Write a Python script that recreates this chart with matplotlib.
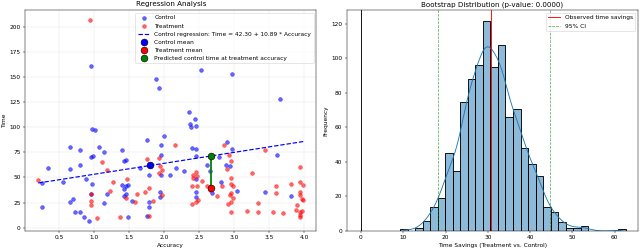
import matplotlib
matplotlib.use("Agg")
import matplotlib.pyplot as plt
import seaborn as sns
import numpy as np

# Control group (accuracy, time)
control_acc = [0.95, 1.89, 1.92, 2.53, 2.97, 3.66, 2.35, 2.44, 2.37, 2.39, 2.46,
               0.97, 1.01, 0.65, 0.80, 1.07, 1.14, 0.34, 0.66, 0.80, 0.95, 0.98,
               0.88, 0.56, 0.26, 0.97, 0.26, 0.65, 0.69, 0.73, 0.80, 0.85, 0.92,
               1.14, 1.18, 0.95, 1.40, 1.45, 1.43, 1.40, 1.45, 1.49, 1.43, 1.45,
               1.42, 1.49, 1.54, 1.65, 1.76, 1.78, 1.76, 1.78, 1.78, 1.95, 2.00,
               1.95, 1.95, 1.94, 1.94, 2.08, 2.17, 2.29, 2.40, 2.45, 2.45, 2.45,
               2.45, 2.45, 2.61, 2.65, 2.68, 2.79, 2.90, 2.89, 2.94, 2.97, 3.04,
               3.45, 3.62, 3.81, 2.81]
control_time = [161, 148, 139, 156.7, 153, 127.7, 115, 108, 103, 100, 101.7,
                98.7, 97.7, 80.7, 77.7, 80.7, 75, 59, 58.7, 62, 70, 71.7,
                48.7, 45.3, 44.7, 43.7, 20.7, 25.7, 29, 15.3, 15.7, 11, 6.7,
                25, 33.7, 33.7, 77, 67, 66, 42, 41, 42, 32, 33.3,
                39, 10.7, 27, 59.3, 87.7, 52.7, 12, 20.7, 25.3, 82.7, 91,
                72.7, 52, 35.3, 30.3, 52, 59.3, 56, 79.3, 78.7, 71, 48.7,
                36, 30.3, 62, 56, 34.3, 70, 85.3, 62.7, 61, 78.7, 37,
                36, 72, 32, 45]

# Treatment group
treat_acc = [0.94, 0.20, 0.95, 0.95, 0.95, 1.04, 1.11, 1.18, 1.23, 1.27, 1.37,
             1.47, 1.46, 1.59, 1.61, 1.72, 1.78, 1.79, 1.76, 1.84, 1.93, 1.94,
             1.93, 1.97, 1.97, 2.15, 2.41, 2.42, 2.45, 2.47, 2.40, 2.47, 2.40,
             2.46, 2.49, 2.54, 2.62, 2.65, 2.75, 2.83, 2.86, 2.90, 2.92, 2.93,
             2.96, 2.95, 2.96, 2.95, 2.98, 2.96, 2.94, 2.98, 2.95, 3.18, 3.26,
             3.34, 3.34, 3.44, 3.60, 3.60, 3.56, 3.70, 3.82, 3.90, 3.89, 3.94,
             3.94, 3.94, 3.99, 3.95, 3.97, 3.99, 3.94, 3.95, 3.94, 3.97]
treat_time = [206.7, 47.7, 33.7, 26.7, 22.7, 9.3, 65, 57, 36.7, 45.3, 11,
              48.3, 29.3, 25.3, 33.7, 36, 40, 12, 68.7, 26.7, 69.3, 61.7,
              54.3, 57.7, 32.7, 82.7, 49.3, 52.7, 55, 51, 41.3, 41.7, 23.7,
              26, 27.3, 46.7, 41, 37.7, 32, 41, 82.7, 58.3, 23.7, 72.7,
              66.7, 25.3, 49.3, 43.3, 41.7, 35, 32.7, 30, 15.3, 17, 54.3,
              25, 15.3, 77.3, 41, 34.3, 15.3, 14.3, 43.7, 22.7, 17.3, 60,
              36, 45.3, 42.3, 32.7, 28.7, 27.7, 15.3, 12.7, 10.3, 16.7]

# Summary values shown on the chart
intercept = 42.30
slope = 10.89
control_mean = (1.80, 62.0)
treat_mean = (2.67, 40.0)

# Bootstrap histogram counts (30 bins)
bin_start = 9.3
bin_width = 1.777
boot_counts = [1, 0, 2, 6, 14, 19, 45, 35, 75, 88, 96, 122, 95, 108, 66,
               71, 48, 39, 32, 14, 11, 5, 2, 2, 3, 0, 0, 0, 0, 1]
observed_savings = 30.85
ci_low, ci_high = 18.3, 44.8
p_value = 0.0

fig, (ax1, ax2) = plt.subplots(1, 2, figsize=(15, 5.8125), dpi=640 / 15)

# Left: regression analysis
ax1.scatter(control_acc, control_time, color="blue", alpha=0.6, s=40, label="Control")
ax1.scatter(treat_acc, treat_time, color="red", alpha=0.6, s=40, label="Treatment")
xs = np.linspace(min(control_acc + treat_acc), max(control_acc + treat_acc), 100)
ax1.plot(xs, intercept + slope * xs, "b--", lw=2,
         label=f"Control regression: Time = {intercept:.2f} + {slope:.2f} * Accuracy")
ax1.scatter(*control_mean, color="blue", s=130, edgecolor="black", label="Control mean", zorder=5)
ax1.scatter(*treat_mean, color="red", s=130, edgecolor="black", label="Treatment mean", zorder=5)
pred = intercept + slope * treat_mean[0]
ax1.scatter(treat_mean[0], pred, color="green", s=130, edgecolor="black",
            label="Predicted control time at treatment accuracy", zorder=5)
ax1.plot([treat_mean[0], treat_mean[0]], [treat_mean[1], pred], "g-", lw=3)
ax1.set_title("Regression Analysis")
ax1.set_xlabel("Accuracy")
ax1.set_ylabel("Time")
ax1.set_yticks(np.arange(0, 201, 25))
ax1.legend(loc="upper right")
ax1.grid(True, alpha=0.3)

# Right: bootstrap distribution
edges = bin_start + bin_width * np.arange(len(boot_counts) + 1)
centers = (edges[:-1] + edges[1:]) / 2
samples = np.repeat(centers, boot_counts)
sns.histplot(samples, bins=edges, kde=True, ax=ax2, alpha=0.5,
             edgecolor="black", linewidth=1.5)
ax2.axvline(observed_savings, color="red", lw=1.5, label="Observed time savings")
ax2.axvline(ci_low, color="green", ls="--", lw=1.2, alpha=0.7, label="95% CI")
ax2.axvline(ci_high, color="green", ls="--", lw=1.2, alpha=0.7)
ax2.axvline(0, color="black", lw=1.5)
ax2.set_xlim(-3.4, 65.5)
ax2.set_title(f"Bootstrap Distribution (p-value: {p_value:.4f})")
ax2.set_xlabel("Time Savings (Treatment vs. Control)")
ax2.set_ylabel("Frequency")
ax2.legend(loc="upper right")

# tight page margins like the original
fig.subplots_adjust(left=25 / 640, right=638 / 640, top=1 - 10 / 248,
                    bottom=1 - 231 / 248, wspace=0.103)
plt.savefig("out.png", dpi=640 / 15)
